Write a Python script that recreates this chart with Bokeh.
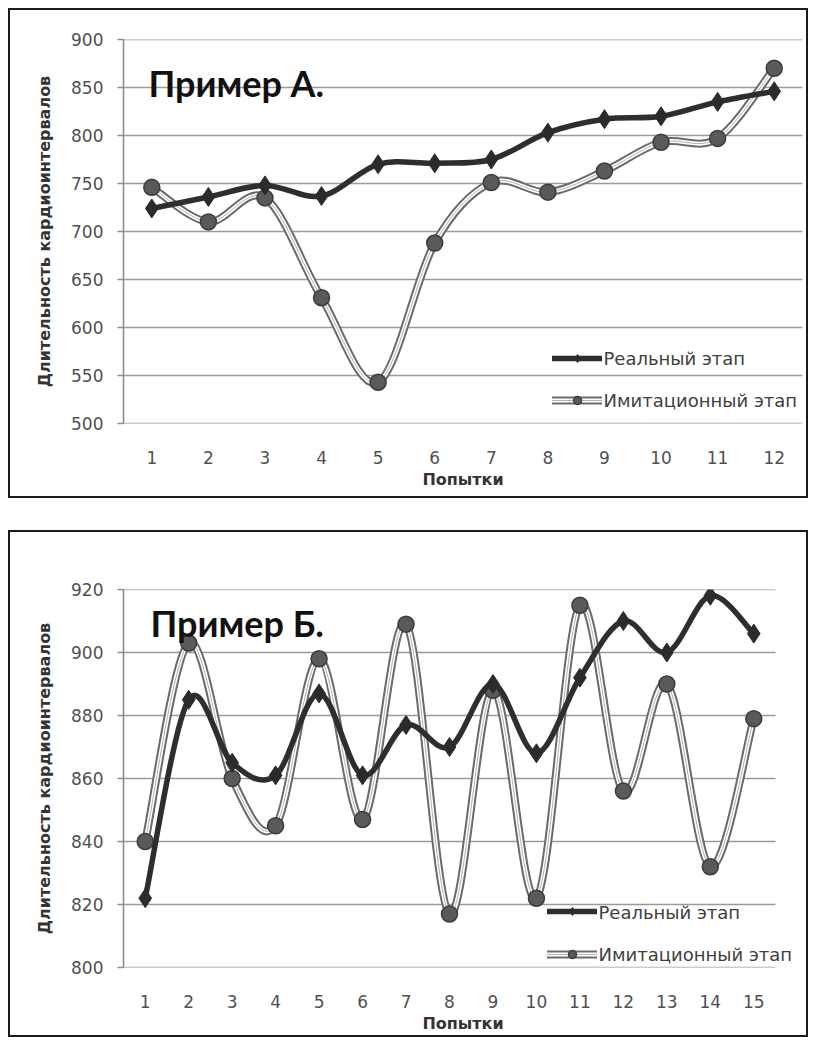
from bokeh.plotting import figure
from bokeh.layouts import column
from bokeh.models import Label, Legend, LegendItem, FixedTicker, Range1d, ColumnDataSource
from bokeh.core.properties import value
from bokeh.embed import file_html
from bokeh.resources import INLINE

# ---- data: Пример А ----
attempts_a = list(range(1, 13))
real_a = [724, 736, 748, 737, 770, 771, 775, 803, 817, 820, 835, 846]
imit_a = [746, 710, 735, 631, 543, 688, 751, 741, 763, 793, 797, 870]
yticks_a = [500, 550, 600, 650, 700, 750, 800, 850, 900]

# ---- data: Пример Б ----
attempts_b = list(range(1, 16))
real_b = [822, 885, 865, 861, 887, 861, 877, 870, 890, 868, 892, 910, 900, 918, 906]
imit_b = [840, 903, 860, 845, 898, 847, 909, 817, 888, 822, 915, 856, 890, 832, 879]
yticks_b = [800, 820, 840, 860, 880, 900, 920]

titles = ["Пример А.", "Пример Б."]
y_title = "Длительность кардиоинтервалов"
x_title = "Попытки"
series_names = ["Реальный этап", "Имитационный этап"]

FIG_W = 796
BORDER_L, BORDER_R = 113, 4


def smooth_source(xs, ys):
    """Bezier segments (Excel-like smoothed line) derived from the data points."""
    n = len(xs)
    d = dict(x0=[], y0=[], x1=[], y1=[], cx0=[], cy0=[], cx1=[], cy1=[])
    for i in range(n - 1):
        xa, ya = (xs[i - 1], ys[i - 1]) if i > 0 else (xs[i], ys[i])
        xb, yb = xs[i], ys[i]
        xc, yc = xs[i + 1], ys[i + 1]
        xd, yd = (xs[i + 2], ys[i + 2]) if i + 2 < n else (xc, yc)
        d["x0"].append(xb); d["y0"].append(yb)
        d["x1"].append(xc); d["y1"].append(yc)
        d["cx0"].append(xb + (xc - xa) / 6.0); d["cy0"].append(yb + (yc - ya) / 6.0)
        d["cx1"].append(xc - (xd - xb) / 6.0); d["cy1"].append(yc - (yd - yb) / 6.0)
    return ColumnDataSource(d)


def make_chart(xs, real, imit, yticks, title, height, bt, bb, band_px, title_pos,
               legend_loc, legend_spacing):
    frame_w = FIG_W - BORDER_L - BORDER_R
    frame_h = height - bt - bb
    x0 = 0.5
    x1 = x0 + frame_w / band_px          # plot area may extend past the last category
    p = figure(width=FIG_W, height=height, output_backend="svg", toolbar_location=None,
               x_range=Range1d(x0, x1), y_range=Range1d(yticks[0], yticks[-1]),
               min_border_left=BORDER_L, min_border_right=BORDER_R,
               min_border_top=bt, min_border_bottom=bb)
    p.styles = {"outline": "2px solid #1a1a1a", "outline-offset": "0px"}
    p.outline_line_color = None
    p.background_fill_color = "white"
    p.border_fill_color = "white"

    # horizontal gridlines spanning the category area only
    p.xgrid.grid_line_color = None
    p.ygrid.grid_line_color = None
    p.segment(x0=[x0] * len(yticks), x1=[len(xs) + 0.5] * len(yticks), y0=yticks, y1=yticks,
              line_color="#9a9a9a", line_width=1.6)

    p.yaxis.ticker = FixedTicker(ticks=yticks)
    p.xaxis.ticker = FixedTicker(ticks=xs)
    for ax in (p.xaxis[0], p.yaxis[0]):
        ax.major_label_text_font = "DejaVu Sans"
        ax.major_label_text_font_size = "17px"
        ax.major_label_text_color = "#505050"
        ax.axis_label_text_font = "DejaVu Sans"
        ax.axis_label_text_font_style = "bold"
        ax.axis_label_text_font_size = "16px"
        ax.axis_label_text_color = "#333333"
        ax.minor_tick_line_color = None
    p.xaxis.axis_line_color = None
    p.xaxis.major_tick_line_color = None
    p.xaxis.major_label_standoff = 21
    p.xaxis.axis_label = x_title
    p.xaxis.axis_label_standoff = 3
    p.yaxis.axis_line_color = "#8c8c8c"
    p.yaxis.axis_line_width = 1.6
    p.yaxis.major_tick_in = 0
    p.yaxis.major_tick_out = 6
    p.yaxis.major_tick_line_color = "#8c8c8c"
    p.yaxis.major_tick_line_width = 1.6
    p.yaxis.major_label_standoff = 14
    p.yaxis.axis_label = y_title
    p.yaxis.axis_label_standoff = 14

    # imitation series: compound (double) smoothed line + circles
    src_i = smooth_source(xs, imit)
    bez_kw = dict(x0="x0", y0="y0", x1="x1", y1="y1", cx0="cx0", cy0="cy0",
                  cx1="cx1", cy1="cy1", source=src_i, line_cap="round")
    i1 = p.bezier(line_color="#6a6a6a", line_width=8, **bez_kw)
    i2 = p.bezier(line_color="white", line_width=4, **bez_kw)
    i3 = p.bezier(line_color="#b0b0b0", line_width=1, **bez_kw)
    i4 = p.scatter(xs, imit, marker="circle", size=16, fill_color="#5a5a5a",
                   line_color="#3c3c3c", line_width=1.5)

    # real series: thick dark smoothed line + diamonds
    src_r = smooth_source(xs, real)
    r1 = p.bezier(x0="x0", y0="y0", x1="x1", y1="y1", cx0="cx0", cy0="cy0",
                  cx1="cx1", cy1="cy1", source=src_r, line_cap="round",
                  line_color="#2e2e2e", line_width=5.5)
    r2 = p.scatter(xs, real, marker="diamond", size=19, fill_color="#2b2b2b",
                   line_color="#2b2b2b")

    # legend samples (Bokeh legend) + legend texts as text glyphs
    legend = Legend(items=[LegendItem(label=" ", renderers=[r1, r2]),
                           LegendItem(label=" ", renderers=[i1, i2, i3, i4])],
                    location=legend_loc, orientation="vertical",
                    glyph_width=50, glyph_height=20, label_height=20,
                    label_standoff=0, spacing=legend_spacing, padding=0, margin=0,
                    border_line_color=None, background_fill_alpha=0,
                    label_text_font_size="1px")
    p.add_layout(legend)

    px2x = (x1 - x0) / frame_w
    px2y = (yticks[-1] - yticks[0]) / frame_h
    tx = [x0 + (legend_loc[0] + 51) * px2x] * 2
    ty = [yticks[0] + (legend_loc[1] + 10 + (1 - k) * (20 + legend_spacing)) * px2y
          for k in range(2)]
    p.text(x=tx, y=ty, text=series_names, text_font=value("DejaVu Sans"),
           text_font_size="18px", text_color="#404040", text_baseline="middle",
           text_align="left")

    p.add_layout(Label(x=title_pos[0], y=title_pos[1], text=title, text_font="Lato",
                       text_font_style="bold", text_font_size="36px",
                       text_color="#111111", text_baseline="alphabetic"))
    return p


p1 = make_chart(attempts_a, real_a, imit_a, yticks_a, titles[0], 486, 29, 73,
                679 / 12, (0.94, 855), (429, 13), 22)
p2 = make_chart(attempts_b, real_b, imit_b, yticks_b, titles[1], 503, 57, 62,
                652 / 15, (1.12, 909.5), (424, 3), 23)

layout = column(p1, p2, spacing=36)
layout.margin = (10, 0, 0, 10)
open("out.html", "w").write(file_html(layout, INLINE))
